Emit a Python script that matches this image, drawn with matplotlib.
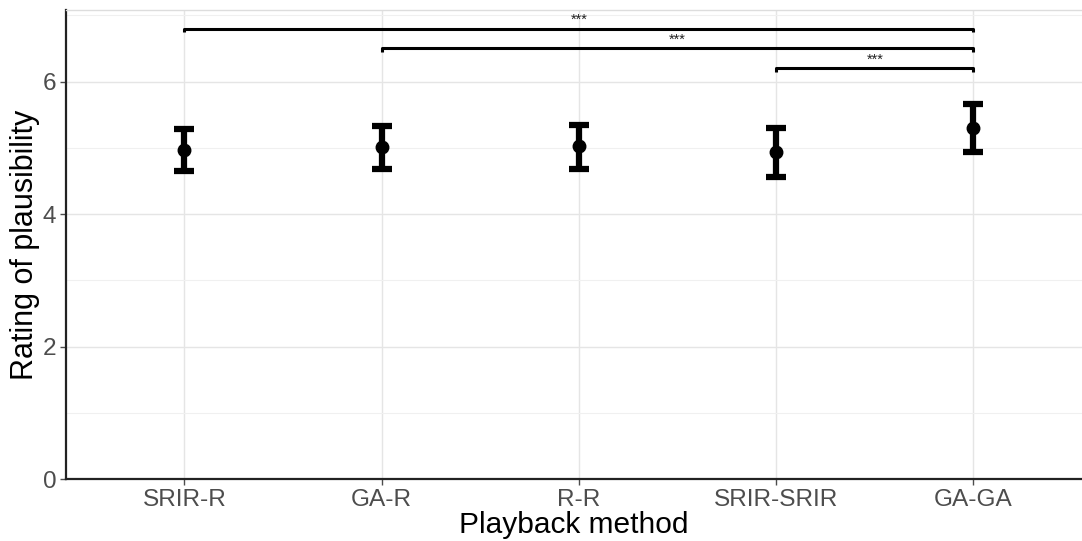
import numpy as np
import matplotlib.pyplot as plt
from matplotlib.ticker import MultipleLocator

# data
methods = ['SRIR-R', 'GA-R', 'R-R', 'SRIR-SRIR', 'GA-GA']
means = [4.97, 5.01, 5.02, 4.93, 5.30]
lower = [4.65, 4.68, 4.68, 4.56, 4.94]
upper = [5.29, 5.33, 5.34, 5.30, 5.66]

# significance brackets: (from, to, height, label)
brackets = [(0, 4, 6.80, '***'), (1, 4, 6.51, '***'), (3, 4, 6.20, '***')]

plt.rcParams['font.family'] = ['Liberation Sans', 'DejaVu Sans']

fig = plt.figure(figsize=(10.82, 5.41), dpi=100)
ax = fig.add_axes([0.061, 0.1146, 0.939, 0.867])

x = np.arange(len(methods))
means = np.array(means)
yerr = [means - np.array(lower), np.array(upper) - means]
ax.errorbar(x, means, yerr=yerr, fmt='o', color='black', ms=9,
            elinewidth=4.5, capsize=7, capthick=4.5, zorder=3)

for a, b, h, lab in brackets:
    tip = 0.06
    ax.plot([x[a], x[a], x[b], x[b]], [h - tip, h, h, h - tip],
            color='black', lw=2.2, solid_capstyle='butt', zorder=3)
    ax.text((x[a] + x[b]) / 2, h + 0.02, lab, ha='center', va='bottom',
            fontsize=10.5, color='#222222')

ax.set_xlim(-0.6, 4.55)
ax.set_ylim(0, 7.08)
ax.set_xticks(x)
ax.set_xticklabels(methods)
ax.yaxis.set_major_locator(MultipleLocator(2))
ax.yaxis.set_minor_locator(MultipleLocator(1))

ax.grid(which='major', color='#e5e5e5', lw=1.0, zorder=0)
ax.grid(which='minor', axis='y', color='#f0f0f0', lw=0.8, zorder=0)
ax.set_axisbelow(True)

for s in ['left', 'bottom']:
    ax.spines[s].set_color('#222222')
    ax.spines[s].set_linewidth(1.6)
ax.spines['top'].set_color('#dddddd')
ax.spines['top'].set_linewidth(1.0)
ax.spines['right'].set_visible(False)

ax.tick_params(axis='both', which='major', labelsize=17.6, colors='#4d4d4d',
               length=4, width=1, labelcolor='#4d4d4d', pad=3)
ax.tick_params(axis='y', which='minor', length=0)

ax.set_xlabel('Playback method', fontsize=21.5, labelpad=0)
ax.set_ylabel('Rating of plausibility', fontsize=22, labelpad=2)

fig.savefig('out.png', dpi=100)
